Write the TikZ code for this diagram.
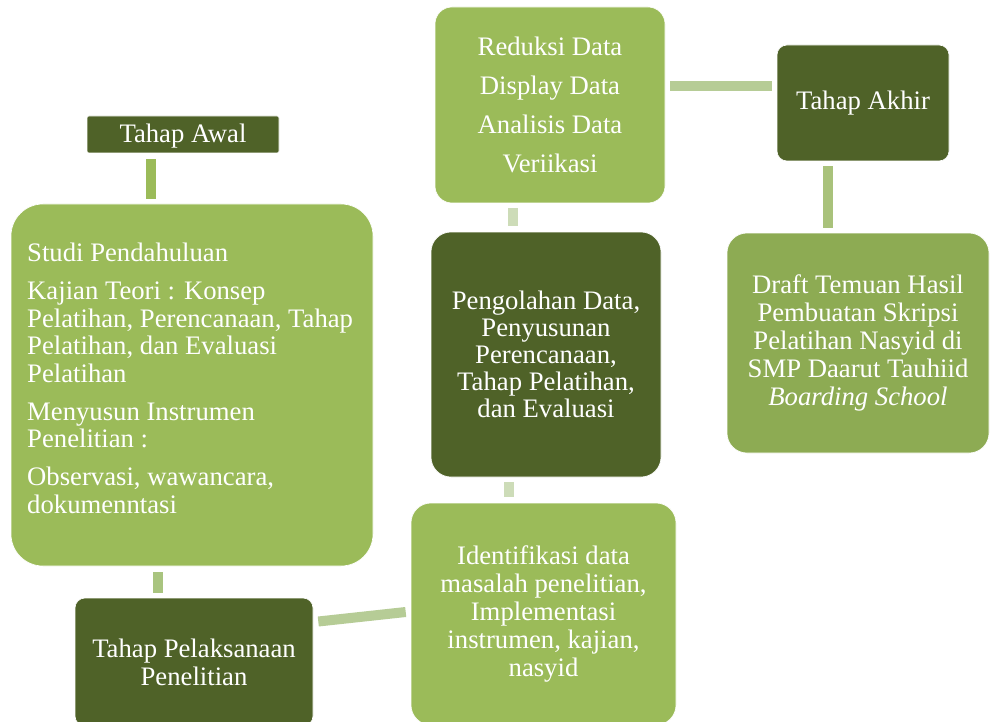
\documentclass[tikz,border=0pt]{standalone}
\usepackage{fontspec}
\setmainfont{Liberation Serif}
\definecolor{lgreen}{HTML}{9BBB59}
\definecolor{dgreen}{HTML}{4F6228}
\definecolor{draftgreen}{HTML}{8DAB53}
\definecolor{conA}{HTML}{9BBB59}
\definecolor{conB}{HTML}{A9C47F}
\definecolor{conC}{HTML}{B6CC96}
\definecolor{conD}{HTML}{CDDCB8}
\definecolor{conE}{HTML}{A9C27B}
\begin{document}
\begin{tikzpicture}[x=1pt,y=-1pt,
  box/.style={draw=white, line width=0.6pt, inner sep=0pt, text=white, align=center,
    font=\fontsize{26.7}{28}\selectfont},
  lightbox/.style={box, fill=lgreen},
  darkbox/.style={box, fill=dgreen},
  conn/.style={line width=10pt}]
\useasboundingbox[fill=white] (0,0) rectangle (990,722);

% nodes
\node[darkbox, rounded corners=2pt, minimum width=192pt, minimum height=37pt, text depth=3pt] (awal) at (183,134.5) {Tahap Awal};
\node[lightbox, rounded corners=32pt, minimum width=362pt, minimum height=362pt] (studi) at (192,385) {};
\node[anchor=north west, inner sep=0pt, text=white, align=left,
  font=\fontsize{26.7}{27.5}\selectfont] (studitext) at (27,243)
  {Studi Pendahuluan\\[10.5pt]
   Kajian Teori : Konsep\\
   Pelatihan, Perencanaan, Tahap\\
   Pelatihan, dan Evaluasi\\
   Pelatihan\\[10.5pt]
   Menyusun Instrumen\\
   Penelitian :\\[10.5pt]
   Observasi, wawancara,\\
   dokumenntasi};
\node[darkbox, rounded corners=10pt, minimum width=238pt, minimum height=128pt] (pel) at (194,662) {Tahap Pelaksanaan\\Penelitian};
\node[lightbox, rounded corners=20pt, minimum width=265pt, minimum height=222pt] (ident) at (543.5,614) {Identifikasi data\\masalah penelitian,\\Implementasi\\instrumen, kajian,\\nasyid};
\node[darkbox, rounded corners=20pt, minimum width=230pt, minimum height=245pt,
  font=\fontsize{26.7}{27}\selectfont] (olah) at (546,354.5) {Pengolahan Data,\\Penyusunan\\Perencanaan,\\Tahap Pelatihan,\\dan Evaluasi};
\node[lightbox, rounded corners=17pt, minimum width=230pt, minimum height=196pt,
  font=\fontsize{26.7}{39}\selectfont] (reduksi) at (550,105) {Reduksi Data\\Display Data\\Analisis Data\\Veriikasi};
\node[darkbox, rounded corners=10pt, minimum width=172pt, minimum height=116pt] (akhir) at (863,103) {Tahap Akhir};
\node[lightbox, fill=draftgreen, rounded corners=20pt, minimum width=262pt, minimum height=220pt] (draft) at (858,343) {Draft Temuan Hasil\\Pembuatan Skripsi\\Pelatihan Nasyid di\\SMP Daarut Tauhiid\\\textit{Boarding School}};

% connectors
\draw[conn, conA] ([xshift=-32pt,yshift=-6pt]awal.south) -- ([xshift=-41pt,yshift=5pt]studi.north);
\draw[conn, conB] ([xshift=-34.5pt,yshift=-6pt]studi.south) -- ([xshift=-36.5pt,yshift=5pt]pel.north);
\draw[conn, conC] ([xshift=5pt,yshift=40.5pt]pel.east) -- ([xshift=-5pt,yshift=2pt]ident.west);
\draw[conn, conD] ([xshift=-34.5pt,yshift=6pt]ident.north) -- ([xshift=-37pt,yshift=-5pt]olah.south);
\draw[conn, conD] ([xshift=-33.5pt,yshift=6pt]olah.north) -- ([xshift=-37.5pt,yshift=-5pt]reduksi.south);
\draw[conn, conC] ([xshift=5pt,yshift=19pt]reduksi.east) -- ([xshift=-5pt,yshift=17pt]akhir.west);
\draw[conn, conE] ([xshift=-35.5pt,yshift=-5pt]akhir.south) -- ([xshift=-30.5pt,yshift=5pt]draft.north);
\end{tikzpicture}
\end{document}
